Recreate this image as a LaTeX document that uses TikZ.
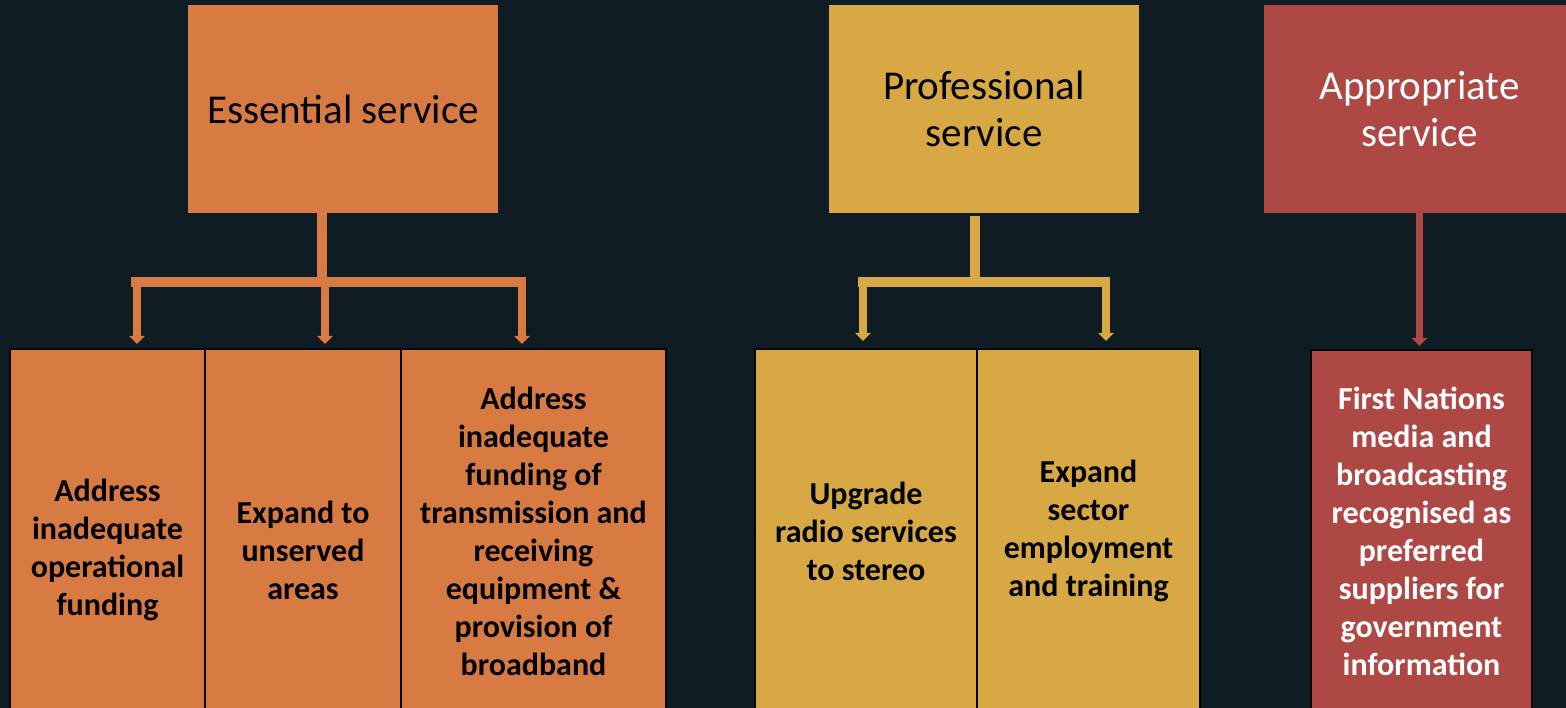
\documentclass[tikz,border=0pt]{standalone}
\usepackage{fontspec}
\setmainfont{Carlito}
\usetikzlibrary{arrows.meta}
\definecolor{bg}{HTML}{0F1C24}
\definecolor{ess}{HTML}{D87B42}
\definecolor{pro}{HTML}{D7A843}
\definecolor{app}{HTML}{AE4845}
\begin{document}
\begin{tikzpicture}[x=1pt,y=-1pt,
  topbox/.style={inner sep=0pt,outer sep=0pt,anchor=north west,align=center,
    font=\fontsize{41}{47}\selectfont},
  botbox/.style={inner sep=0pt,outer sep=0pt,anchor=north west,align=center,
    draw=black,line width=2pt,font=\bfseries\fontsize{32}{38}\selectfont},
  bar/.style={line width=10pt},
  arr/.style={line width=7.5pt,-{Triangle[width=15pt,length=8pt]}}]
\clip (0,0) rectangle (1566,708);
\fill[bg] (0,0) rectangle (1566,708);
% top boxes
\node[topbox,fill=ess,minimum width=310pt,minimum height=208pt] (ess) at (188,5) {Essential service};
\node[topbox,fill=pro,minimum width=310pt,minimum height=208pt] (pro) at (829,5) {Professional\\service};
\node[topbox,fill=app,text=white,minimum width=311pt,minimum height=208pt] (app) at (1264,5) {Appropriate\\service};
% bottom boxes
\node[botbox,fill=ess,minimum width=195pt,minimum height=402pt] (e1) at (10,349) {Address\\inadequate\\operational\\funding};
\node[botbox,fill=ess,minimum width=196pt,minimum height=402pt] (e2) at (205,349) {Expand to\\unserved\\areas};
\node[botbox,fill=ess,minimum width=265pt,minimum height=364pt] (e3) at (401,349) {Address\\inadequate\\funding of\\transmission and\\receiving\\equipment \&\\provision of\\broadband};
\node[botbox,fill=pro,minimum width=222pt,minimum height=364pt] (p1) at (755,349) {Upgrade\\radio services\\to stereo};
\node[botbox,fill=pro,minimum width=223pt,minimum height=364pt] (p2) at (977,349) {Expand\\sector\\employment\\and training};
\node[botbox,fill=app,text=white,minimum width=221pt,minimum height=362pt] (a1) at (1311,350) {First Nations\\media and\\broadcasting\\recognised as\\preferred\\suppliers for\\government\\information};
% essential connectors
\coordinate (ej) at (322,282);
\coordinate (el) at (131,282);
\coordinate (er) at (526,282);
\coordinate (ea1) at (137,282);
\coordinate (ea2) at (325,282);
\coordinate (ea3) at (522,282);
\draw[ess,bar] (ess.south -| ej) -- ([yshift=5pt]ej);
\draw[ess,bar] (el) -- (er);
\draw[ess,arr,shorten >=5pt] (ea1) -- (ea1 |- e1.north);
\draw[ess,arr,shorten >=5pt] (ea2) -- (ea2 |- e2.north);
\draw[ess,arr,shorten >=5pt] (ea3) -- (ea3 |- e3.north);
% professional connectors
\coordinate (pj) at (975,282);
\coordinate (pl) at (858,282);
\coordinate (pr) at (1110,282);
\coordinate (pa1) at (863,282);
\coordinate (pa2) at (1106,282);
\draw[pro,bar,shorten <=3pt] (pro.south -| pj) -- ([yshift=5pt]pj);
\draw[pro,bar] (pl) -- (pr);
\draw[pro,arr,shorten >=8pt] (pa1) -- (pa1 |- p1.north);
\draw[pro,arr,shorten >=8pt] (pa2) -- (pa2 |- p2.north);
% appropriate connector
\coordinate (aa) at (1419.5,213);
\draw[app,arr,shorten >=4pt] (app.south -| aa) -- (aa |- a1.north);
\end{tikzpicture}
\end{document}
